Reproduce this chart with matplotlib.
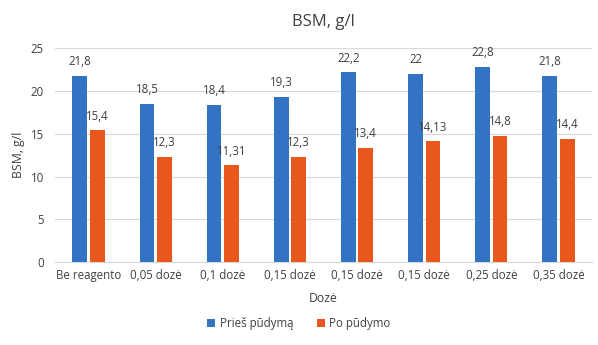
import matplotlib
matplotlib.use("Agg")
import matplotlib.pyplot as plt
import numpy as np

categories = ["Be reagento", "0,05 dozė", "0,1 dozė", "0,15 dozė", "0,15 dozė", "0,15 dozė", "0,25 dozė", "0,35 dozė"]
pries = [21.8, 18.5, 18.4, 19.3, 22.2, 22.0, 22.8, 21.8]
po = [15.4, 12.3, 11.31, 12.3, 13.4, 14.13, 14.8, 14.4]
series_names = ["Prieš pūdymą", "Po pūdymo"]
colors = ["#3373C4", "#E8581C"]

plt.rcParams['font.family'] = ['Open Sans', 'DejaVu Sans']
txt = "#404040"

fig = plt.figure(figsize=(5.98, 3.45), dpi=100)
ax = fig.add_axes([0.092, 0.24, 0.898, 0.62])

x = np.arange(len(categories))
w = 0.22
off = 0.13
b1 = ax.bar(x - off, pries, w, color=colors[0], label=series_names[0], zorder=3)
b2 = ax.bar(x + off, po, w, color=colors[1], label=series_names[1], zorder=3)

def fmt(v):
    return f"{v:g}".replace('.', ',')

for bars, vals in ((b1, pries), (b2, po)):
    for r, v in zip(bars, vals):
        ax.annotate(fmt(v), (r.get_x() + r.get_width() / 2, v), xytext=(0, 5.5),
                    textcoords="offset points", ha="center", va="bottom",
                    fontsize=8.3, color=txt)

ax.set_ylim(0, 25)
ax.set_xlim(-0.5, len(categories) - 0.5)
ax.set_yticks([0, 5, 10, 15, 20, 25])
ax.set_xticks(x)
ax.set_xticklabels(categories)
ax.tick_params(axis='both', length=0, labelsize=8.3, colors=txt)
ax.tick_params(axis='y', pad=8)
ax.tick_params(axis='x', pad=5)
ax.grid(axis='y', color="#D9D9D9", linewidth=0.8, zorder=0)
for s in ["top", "right", "left"]:
    ax.spines[s].set_visible(False)
ax.spines["bottom"].set_color("#D9D9D9")

ax.set_title("BSM, g/l", fontsize=12, color=txt, pad=16)
ax.set_ylabel("BSM, g/l", fontsize=8.8, color=txt)
ax.set_xlabel("Dozė", fontsize=8.8, color=txt, labelpad=7)

fig.legend(handles=[b1, b2], labels=series_names, loc="center", bbox_to_anchor=(0.5, 0.062),
           ncol=2, frameon=False, fontsize=8.3, handlelength=0.7, handleheight=0.7,
           columnspacing=2.0, handletextpad=0.4, labelcolor=txt)

fig.savefig("out.png", dpi=100)
